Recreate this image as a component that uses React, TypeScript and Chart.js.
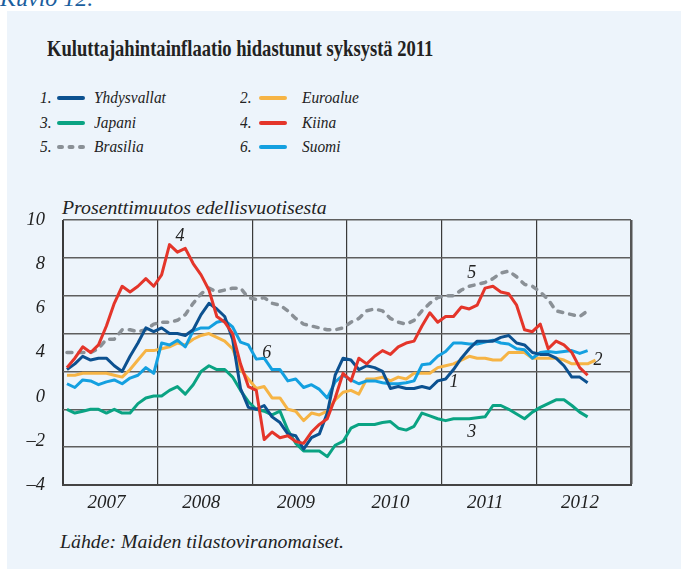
import React, { useEffect, useRef } from 'react';
import { Chart, registerables } from 'chart.js';

Chart.register(...registerables);

// ---------- data ----------
const START_YEAR = 2007;
const END_YEAR = 2013;
const yearLabels = ['2007', '2008', '2009', '2010', '2011', '2012'];
const yTickLabels = ['–4', '–2', '0', '4', '6', '8', '10'];

const usValues = [
  2.1, 2.4, 2.8, 2.6, 2.7, 2.7, 2.3, 2.0, 2.8, 3.5, 4.3, 4.1,
  4.3, 4.0, 4.0, 3.9, 4.2, 5.0, 5.6, 5.3, 4.9, 3.7, 1.1, 0.1,
  0.0, 0.2, -0.4, -0.7, -1.3, -1.4, -2.1, -1.5, -1.3, -0.2, 1.8, 2.7,
  2.6, 2.1, 2.3, 2.2, 2.0, 1.1, 1.2, 1.1, 1.1, 1.2, 1.1, 1.5,
  1.6, 2.1, 2.7, 3.2, 3.6, 3.6, 3.6, 3.8, 3.9, 3.5, 3.4, 3.0,
  2.9, 2.9, 2.7, 2.3, 1.7, 1.7, 1.4,
];
const euroValues = [
  1.8, 1.8, 1.9, 1.9, 1.9, 1.9, 1.8, 1.7, 2.1, 2.6, 3.1, 3.1,
  3.2, 3.3, 3.5, 3.4, 3.7, 3.9, 4.0, 3.8, 3.6, 3.2, 2.1, 1.6,
  1.1, 1.2, 0.6, 0.6, 0.0, -0.1, -0.6, -0.2, -0.3, -0.1, 0.5, 0.9,
  1.0, 0.8, 1.6, 1.6, 1.7, 1.5, 1.7, 1.6, 1.9, 1.9, 1.9, 2.2,
  2.3, 2.4, 2.6, 2.8, 2.7, 2.7, 2.6, 2.6, 3.0, 3.0, 3.0, 2.7,
  2.7, 2.7, 2.7, 2.6, 2.4, 2.4, 2.4, 2.6,
];
const japanValues = [
  0.0, -0.2, -0.1, 0.0, 0.0, -0.2, 0.0, -0.2, -0.2, 0.3, 0.6, 0.7,
  0.7, 1.0, 1.2, 0.8, 1.3, 2.0, 2.3, 2.1, 2.1, 1.7, 1.0, 0.4,
  0.0, -0.1, -0.3, -0.1, -1.1, -1.8, -2.2, -2.2, -2.2, -2.5, -1.9, -1.7,
  -1.0, -0.8, -0.8, -0.8, -0.7, -0.65, -1.0, -1.1, -0.9, -0.2, -0.35, -0.5,
  -0.6, -0.5, -0.5, -0.5, -0.45, -0.4, 0.2, 0.2, 0.0, -0.25, -0.5, -0.15,
  0.1, 0.3, 0.5, 0.5, 0.2, -0.15, -0.4,
];
const chinaValues = [
  2.2, 2.7, 3.3, 3.0, 3.4, 4.4, 5.6, 6.5, 6.2, 6.5, 6.9, 6.5,
  7.1, 8.7, 8.3, 8.5, 7.7, 7.1, 6.3, 4.9, 4.6, 4.0, 2.4, 1.2,
  1.0, -1.6, -1.2, -1.5, -1.4, -1.7, -1.8, -1.2, -0.8, -0.5, 0.6, 1.9,
  1.5, 2.7, 2.4, 2.8, 3.1, 2.9, 3.3, 3.5, 3.6, 4.4, 5.1, 4.6,
  4.9, 4.9, 5.4, 5.3, 5.5, 6.4, 6.5, 6.2, 6.1, 5.5, 4.2, 4.1,
  4.5, 3.2, 3.6, 3.4, 3.0, 2.2, 1.8,
];
const brazilValues = [
  3.0, 3.0, 3.0, 3.0, 3.2, 3.7, 3.7, 4.2, 4.2, 4.1, 4.2, 4.5,
  4.6, 4.6, 4.7, 5.0, 5.6, 6.1, 6.4, 6.2, 6.3, 6.4, 6.4, 5.9,
  5.8, 5.9, 5.6, 5.5, 5.2, 4.8, 4.5, 4.4, 4.3, 4.2, 4.2, 4.3,
  4.6, 4.8, 5.2, 5.3, 5.2, 4.8, 4.6, 4.5, 4.7, 5.2, 5.6, 5.9,
  6.0, 6.0, 6.3, 6.5, 6.6, 6.7, 6.9, 7.2, 7.3, 7.0, 6.6, 6.5,
  6.2, 5.8, 5.2, 5.1, 5.0, 4.9, 5.2,
];
const finlandValues = [
  1.35, 1.15, 1.55, 1.5, 1.3, 1.45, 1.55, 1.35, 1.65, 1.8, 2.2, 1.9,
  3.5, 3.4, 3.65, 3.3, 4.15, 4.3, 4.3, 4.6, 4.7, 4.35, 3.55, 3.4,
  2.65, 2.7, 2.1, 2.1, 1.5, 1.6, 1.15, 1.3, 1.05, 0.6, 1.45, 1.8,
  1.55, 1.35, 1.5, 1.5, 1.4, 1.35, 1.35, 1.4, 1.5, 2.35, 2.4, 2.8,
  3.05, 3.5, 3.5, 3.45, 3.45, 3.55, 3.65, 3.5, 3.45, 3.2, 3.15, 2.7,
  3.0, 3.05, 3.0, 3.05, 3.1, 2.95, 3.1,
];

const seriesNumbers = ['1.', '2.', '3.', '4.', '5.', '6.'];
const seriesNames = ['Yhdysvallat', 'Euroalue', 'Japani', 'Kiina', 'Brasilia', 'Suomi'];
const seriesValues = [usValues, euroValues, japanValues, chinaValues, brazilValues, finlandValues];
const seriesColors = ['#0c5190', '#f6b445', '#0aa383', '#e4352a', '#8a9096', '#14a0e0'];
const seriesDashed = [false, false, false, false, true, false];
const seriesDrawOrder = [1, 3, 4, 0, 5, 2]; // 0 = on top

// in-plot line numbers (text, year, value)
const noteTexts = ['4', '5', '6', '1', '2', '3'];
const noteYears = [2008.236, 2011.317, 2009.152, 2011.13, 2012.651, 2011.317];
const noteValues = [9.12, 7.21, 2.94, 1.43, 2.59, -1.22];

const FONT = '"Liberation Serif", "Times New Roman", serif';
const INK = '#222';

const monthX = (i: number) => START_YEAR + (i + 0.5) / 12;

const notesPlugin = {
  id: 'lineNotes',
  afterDatasetsDraw(chart: any) {
    const { ctx, scales } = chart;
    ctx.save();
    ctx.font = `italic 18px ${FONT}`;
    ctx.fillStyle = INK;
    ctx.textAlign = 'center';
    ctx.textBaseline = 'middle';
    noteTexts.forEach((t, i) => {
      ctx.fillText(t, scales.x.getPixelForValue(noteYears[i]), scales.y.getPixelForValue(noteValues[i]));
    });
    ctx.restore();
  },
};

export default function App() {
  const ref = useRef<HTMLCanvasElement>(null);

  useEffect(() => {
    const datasets = seriesNames.map((name, s) => ({
      label: name,
      data: seriesValues[s].map((v, i) => ({ x: monthX(i), y: v })),
      borderColor: seriesColors[s],
      backgroundColor: seriesColors[s],
      borderWidth: seriesDashed[s] ? 3.5 : 3,
      borderDash: seriesDashed[s] ? [5, 7] : [],
      borderCapStyle: seriesDashed[s] ? 'round' : 'butt',
      borderJoinStyle: 'round',
      pointRadius: 0,
      tension: 0,
      fill: false,
      order: seriesDrawOrder[s],
    }));

    const chart = new Chart(ref.current as HTMLCanvasElement, {
      type: 'line',
      data: { datasets } as any,
      options: {
        animation: false,
        responsive: false,
        devicePixelRatio: 1,
        layout: { padding: { top: 30, right: 50, left: 0, bottom: 0 } },
        plugins: { legend: { display: false }, tooltip: { enabled: false }, title: { display: false } },
        scales: {
          x: {
            type: 'linear',
            position: 'bottom',
            min: START_YEAR,
            max: END_YEAR,
            afterBuildTicks: (scale: any) => {
              const ticks: any[] = [];
              for (let y = START_YEAR; y <= END_YEAR; y++) {
                ticks.push({ value: y });
                if (y < END_YEAR) ticks.push({ value: y + 0.46 });
              }
              scale.ticks = ticks;
            },
            afterFit: (scale: any) => {
              scale.height = 45;
            },
            ticks: {
              autoSkip: false,
              maxRotation: 0,
              padding: 7,
              color: INK,
              font: { family: FONT, size: 19, style: 'italic' },
              callback: (value: any) =>
                Number.isInteger(value) ? '' : yearLabels[Math.floor(value) - START_YEAR],
            },
            grid: {
              drawTicks: false,
              color: (c: any) => {
                const v = c.tick && c.tick.value;
                if (!Number.isInteger(v)) return 'rgba(0,0,0,0)';
                return v === END_YEAR ? '#555' : '#3a3a3a';
              },
              lineWidth: (c: any) => {
                const v = c.tick && c.tick.value;
                if (!Number.isInteger(v)) return 0;
                if (v === END_YEAR) return 2.5;
                if (v === START_YEAR) return 2;
                return 1.2;
              },
            },
            border: { display: true, color: '#444', width: 2 },
          },
          y: {
            type: 'linear',
            position: 'left',
            min: -4,
            max: 10,
            ticks: { stepSize: 2, display: false },
            grid: { color: '#5e5e5e', lineWidth: 1.5, drawTicks: false },
            border: { display: false },
            afterFit: (scale: any) => {
              scale.width = 0;
            },
          },
          yl: {
            type: 'linear',
            position: 'left',
            min: 0,
            max: yTickLabels.length - 1,
            ticks: {
              stepSize: 1,
              padding: 18,
              color: INK,
              font: { family: FONT, size: 18.5, style: 'italic' },
              callback: (value: any) => yTickLabels[value],
            },
            grid: { display: false, drawTicks: false },
            border: { display: false },
            afterFit: (scale: any) => {
              scale.width = 63;
            },
          },
        },
      } as any,
      plugins: [notesPlugin],
    });
    return () => chart.destroy();
  }, []);

  const text = (left: number, top: number, size: number, extra: any = {}) => ({
    position: 'absolute' as const,
    left,
    top,
    fontSize: size,
    lineHeight: `${size}px`,
    whiteSpace: 'nowrap' as const,
    fontStyle: 'italic',
    color: INK,
    ...extra,
  });

  const legendSize = 17.5;
  const legendBase = 0.8375 * legendSize;

  return (
    <div
      style={{
        position: 'absolute',
        left: 0,
        top: 0,
        width: 681,
        height: 569,
        overflow: 'hidden',
        background: '#fff',
        fontFamily: FONT,
      }}
    >
      <div style={text(0, -14, 24, { color: '#1a5e9e' })}>Kuvio 12.</div>
      <div style={{ position: 'absolute', left: 7, top: 11, width: 674, height: 558, background: '#edf4fb' }} />
      <div
        style={text(47, 57 - 0.8375 * 23.5, 23.5, {
          fontStyle: 'normal',
          fontWeight: 'bold',
          transform: 'scaleX(0.79)',
          transformOrigin: 'left top',
        })}
      >
        Kuluttajahintainflaatio hidastunut syksystä 2011
      </div>

      {seriesNames.map((name, i) => {
        const col = i % 2;
        const row = Math.floor(i / 2);
        const baseline = 104 + row * 24.3;
        const top = baseline - legendBase;
        const numLeft = col === 0 ? 40 : 240;
        const swLeft = col === 0 ? 56 : 258;
        const labLeft = col === 0 ? 94 : 302;
        const cond = { transform: 'scaleX(0.88)', transformOrigin: 'left top' };
        return (
          <React.Fragment key={name}>
            <div style={text(numLeft, top, legendSize, cond)}>{seriesNumbers[i]}</div>
            <svg
              width={30}
              height={8}
              style={{ position: 'absolute', left: swLeft, top: baseline - 5.7 - 4 }}
            >
              <line
                x1={3}
                y1={4}
                x2={27}
                y2={4}
                stroke={seriesColors[i]}
                strokeWidth={4}
                strokeLinecap="round"
                strokeDasharray={seriesDashed[i] ? '3 7.5' : undefined}
              />
            </svg>
            <div style={text(labLeft, top, legendSize, cond)}>{name}</div>
          </React.Fragment>
        );
      })}

      <div style={text(62, 198, 19.8)}>Prosenttimuutos edellisvuotisesta</div>

      <canvas
        ref={ref}
        width={681}
        height={340}
        style={{ position: 'absolute', left: 0, top: 190, width: 681, height: 340 }}
      />

      <div style={text(60, 532.4, 19.8)}>Lähde: Maiden tilastoviranomaiset.</div>
    </div>
  );
}
